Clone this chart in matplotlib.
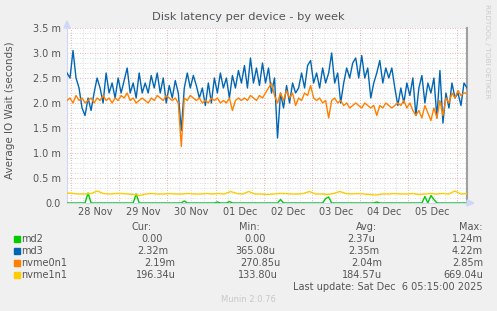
import matplotlib.pyplot as plt
import numpy as np
from matplotlib.patches import Rectangle, Polygon

W, H = 497, 311

# half-hourly-ish samples across the week window (values in ms)
md3 = [2.6, 2.5, 3.05, 2.5, 2.3, 1.9, 1.75, 2.1, 1.85, 2.2,
       2.5, 2.3, 2.0, 2.6, 2.2, 2.4, 2.1, 2.5, 2.2, 2.45,
       2.7, 2.2, 2.4, 2.1, 2.6, 2.2, 2.4, 2.2, 2.55, 2.3,
       2.6, 2.2, 2.5, 2.0, 2.35, 2.1, 2.45, 2.2, 1.45, 2.3,
       2.6, 2.3, 2.55, 2.35, 2.1, 2.3, 1.95, 2.4, 2.0, 2.5,
       2.2, 2.6, 2.3, 2.5, 2.1, 2.55, 2.3, 2.65, 2.4, 2.75,
       2.3, 2.9, 2.4, 2.7, 2.35, 2.8, 2.4, 2.7, 2.2, 2.5,
       1.3, 2.2, 1.9, 2.35, 2.0, 2.4, 2.2, 2.3, 2.6, 2.3,
       2.75, 2.85, 2.4, 2.6, 2.3, 2.7, 2.4, 2.6, 3.0, 2.4,
       2.6, 2.0, 2.4, 2.7, 2.5, 2.8, 2.9, 2.5, 2.95, 2.5,
       2.7, 2.1, 2.4, 2.6, 2.85, 2.4, 2.7, 2.5, 2.7, 2.3,
       1.95, 2.3, 2.0, 2.4, 2.15, 2.5, 1.75, 2.3, 2.55, 2.0,
       2.4, 2.2, 2.5, 1.7, 2.65, 1.6, 2.2, 1.9, 2.4, 2.1,
       2.2, 1.95, 2.4, 2.3]

nvme0n1 = [2.05, 2.1, 2.0, 2.15, 2.05, 2.1, 2.0, 2.05, 2.1, 2.0,
           2.1, 2.05, 2.15, 2.05, 2.1, 2.0, 2.1, 2.05, 2.15, 2.1,
           2.2, 2.05, 2.1, 2.0, 2.05, 2.1, 2.05, 2.0, 2.1, 2.05,
           2.15, 2.1, 2.05, 2.15, 2.1, 2.05, 2.1, 2.0, 1.13, 2.1,
           2.05, 2.15, 2.1, 2.05, 2.1, 2.0, 2.05, 2.0, 2.1, 2.05,
           2.1, 2.0, 2.05, 2.0, 2.1, 1.85, 2.05, 2.1, 2.05, 2.1,
           2.05, 2.15, 2.1, 2.05, 2.15, 2.1, 2.2, 2.3, 2.4, 2.15,
           2.0, 2.2, 2.05, 2.25, 2.1, 2.2, 1.95, 2.1, 2.05, 2.2,
           2.15, 2.35, 2.1, 2.05, 2.1, 2.0, 2.05, 1.7, 2.05, 2.1,
           2.0, 2.05, 1.95, 2.0, 1.9, 1.95, 2.0, 1.95, 1.9, 2.0,
           1.95, 1.9, 1.95, 1.75, 1.95, 1.9, 2.0, 1.95, 1.9, 1.95,
           2.0, 1.95, 2.05, 1.9, 2.0, 1.85, 1.75, 1.85, 1.7, 1.95,
           1.8, 1.65, 1.9, 1.7, 2.05, 1.75, 2.1, 2.0, 2.2, 2.1,
           2.25, 2.15, 2.2, 2.2]

md2 = [0, 0, 0, 0, 0, 0, 0, 0.2, 0, 0,
       0, 0, 0, 0, 0, 0, 0, 0, 0, 0,
       0, 0, 0, 0.18, 0, 0, 0, 0, 0, 0,
       0, 0, 0, 0, 0, 0, 0, 0, 0, 0.04,
       0, 0, 0, 0, 0, 0, 0, 0, 0, 0,
       0.02, 0, 0, 0, 0.03, 0, 0, 0, 0, 0,
       0, 0, 0, 0, 0, 0, 0, 0, 0, 0,
       0, 0.07, 0, 0, 0, 0, 0, 0, 0, 0,
       0, 0, 0, 0, 0, 0, 0.09, 0.12, 0, 0,
       0, 0, 0, 0, 0, 0, 0, 0, 0, 0,
       0, 0, 0, 0.02, 0, 0, 0, 0, 0, 0,
       0, 0, 0, 0, 0, 0, 0, 0, 0, 0.13,
       0, 0.15, 0.07, 0, 0, 0, 0, 0, 0, 0,
       0, 0, 0, 0]

nvme1n1 = [0.20, 0.19, 0.18, 0.18, 0.19, 0.24, 0.19, 0.18, 0.19, 0.19,
           0.18, 0.17, 0.15, 0.18, 0.19, 0.18, 0.18, 0.19, 0.18, 0.18,
           0.19, 0.18, 0.18, 0.19, 0.18, 0.19, 0.18, 0.23, 0.19, 0.18,
           0.23, 0.18, 0.18, 0.17, 0.18, 0.19, 0.19, 0.18, 0.18, 0.19,
           0.23, 0.18, 0.18, 0.17, 0.19, 0.23, 0.19, 0.18, 0.19, 0.18,
           0.17, 0.16, 0.18, 0.18, 0.19, 0.18, 0.18, 0.19, 0.17, 0.18,
           0.19, 0.18, 0.19, 0.18, 0.24, 0.18, 0.19]

day_labels = ['28 Nov', '29 Nov', '30 Nov', '01 Dec', '02 Dec', '03 Dec', '04 Dec', '05 Dec']
y_labels = ['0.0', '0.5 m', '1.0 m', '1.5 m', '2.0 m', '2.5 m', '3.0 m', '3.5 m']

names = ['md2', 'md3', 'nvme0n1', 'nvme1n1']
colors = ['#00cc00', '#0066b3', '#ff8000', '#ffcc00']
cur = ['0.00', '2.32m', '2.19m', '196.34u']
mins = ['0.00', '365.08u', '270.85u', '133.80u']
avgs = ['2.37u', '2.35m', '2.04m', '184.57u']
maxs = ['1.24m', '4.22m', '2.85m', '669.04u']

txt = '#555555'

fig = plt.figure(figsize=(W / 100, H / 100), dpi=100, facecolor='#f0f0f0')
ax = fig.add_axes([67 / W, 1 - 203 / H, 400 / W, 175 / H])
ax.set_facecolor('white')
x0, x1 = -2, 197.2
ax.set_xlim(x0, x1)
ax.set_ylim(0, 3.5)

# grid: minor grey, major red-ish dotted
for v in np.arange(0.1, 3.5, 0.1):
    if abs(v / 0.5 - round(v / 0.5)) > 1e-6:
        ax.axhline(v, color='#d4d4d4', lw=0.6, ls=(0, (1, 2)), zorder=0)
for v in np.arange(0.5, 3.51, 0.5):
    ax.axhline(v, color='#e89a9a', lw=0.6, ls=(0, (1, 2)), zorder=0)
for h in np.arange(0, x1, 6):
    if h % 24:
        ax.axvline(h, color='#d4d4d4', lw=0.6, ls=(0, (1, 2)), zorder=0)
for h in np.arange(0, x1, 24):
    ax.axvline(h, color='#e89a9a', lw=0.6, ls=(0, (1, 2)), zorder=0)

series = [md2, md3, nvme0n1, nvme1n1]
for s, c in zip(series, colors):
    t = np.linspace(x0, x1, len(s))
    ax.plot(t, s, color=c, lw=1.0, zorder=3)

ax.spines['top'].set_visible(False)
ax.spines['left'].set_color('#cfd6f8')
ax.spines['bottom'].set_color('#cfd6f8')
ax.spines['right'].set_color('#a0a0a0')
ax.spines['right'].set_linewidth(1.5)

ax.set_yticks(np.arange(0, 3.51, 0.5))
ax.set_yticklabels(y_labels)
ax.set_xticks(np.arange(12, 181, 24))
ax.set_xticklabels(day_labels)
ax.tick_params(axis='y', length=0, pad=4.5, labelsize=7, labelcolor=txt)
ax.tick_params(axis='x', length=0, pad=3, labelsize=7, labelcolor=txt)


def fx(x):
    return x / W


def fy(y):
    return 1 - y / H


# axis arrows
fig.patches.append(Polygon([(fx(64), fy(28)), (fx(70), fy(28)), (fx(67), fy(21))],
                           closed=True, transform=fig.transFigure, color='#cfd6f8'))
fig.patches.append(Polygon([(fx(467), fy(200)), (fx(467), fy(206)), (fx(474), fy(203))],
                           closed=True, transform=fig.transFigure, color='#cfd6f8'))

fig.text(fx(248), fy(17), 'Disk latency per device - by week', ha='center', va='center',
         fontsize=8.2, color=txt)
fig.text(fx(10), fy(110), 'Average IO Wait (seconds)', rotation=90, ha='center', va='center',
         fontsize=7.5, color=txt)
fig.text(fx(487), fy(51), 'RRDTOOL / TOBI OETIKER', rotation=270, ha='center', va='center',
         fontsize=5.3, color='#cccccc')

# legend table
fig.text(fx(132), fy(227), 'Cur:', va='center', fontsize=7, color=txt)
fig.text(fx(239), fy(227), 'Min:', va='center', fontsize=7, color=txt)
fig.text(fx(356), fy(227), 'Avg:', va='center', fontsize=7, color=txt)
fig.text(fx(483), fy(227), 'Max:', va='center', ha='right', fontsize=7, color=txt)

cur_x = [141, 137, 144, 136]
min_x = [244, 235, 240, 238]
avg_x = [347, 348, 351, 342]
for i in range(4):
    y = 239 + 12 * i
    fig.patches.append(Rectangle((fx(14), fy(y + 3)), 6 / W, 6 / H, transform=fig.transFigure,
                                 color=colors[i]))
    fig.text(fx(21), fy(y), names[i], va='center', fontsize=7, color=txt)
    fig.text(fx(cur_x[i]), fy(y), cur[i], va='center', fontsize=7, color=txt)
    fig.text(fx(min_x[i]), fy(y), mins[i], va='center', fontsize=7, color=txt)
    fig.text(fx(avg_x[i]), fy(y), avgs[i], va='center', fontsize=7, color=txt)
    fig.text(fx(483), fy(y), maxs[i], va='center', ha='right', fontsize=7, color=txt)

fig.text(fx(483), fy(287), 'Last update: Sat Dec  6 05:15:00 2025', va='center', ha='right',
         fontsize=7, color=txt)
fig.text(fx(248), fy(299), 'Munin 2.0.76', va='center', ha='center', fontsize=6, color='#c8c8c8')

fig.savefig('out.png', dpi=100, facecolor=fig.get_facecolor())
